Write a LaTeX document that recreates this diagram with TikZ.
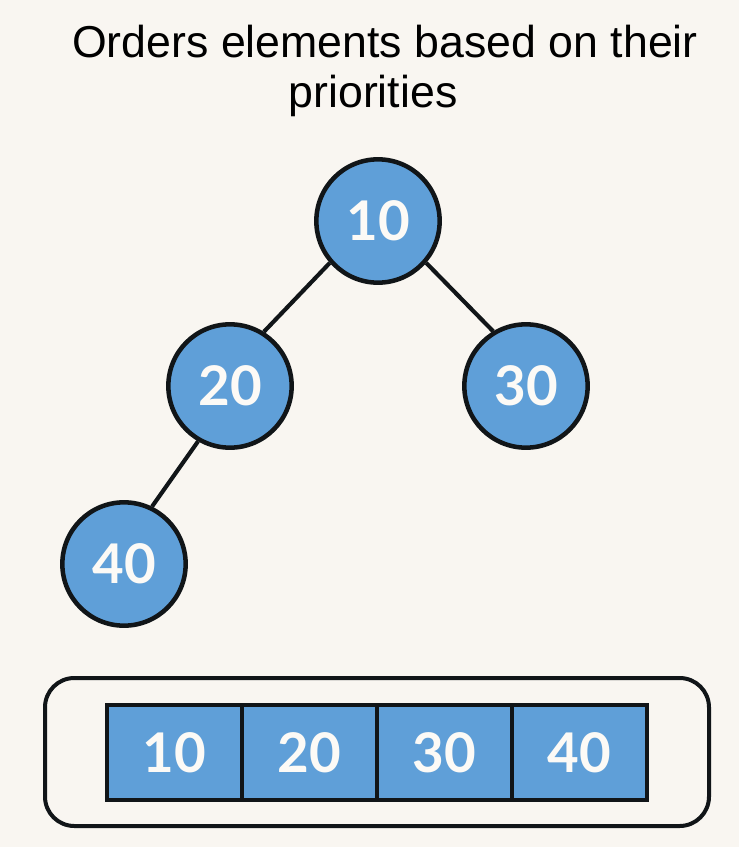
\documentclass[tikz,border=0pt]{standalone}
\usepackage{fontspec}
\setmainfont{Liberation Sans}
\newfontfamily\digitfont{Lato}
\definecolor{bg}{HTML}{F9F6F1}
\definecolor{blu}{HTML}{5F9FD8}
\definecolor{ink}{HTML}{111518}
\definecolor{digit}{HTML}{FCFAF6}
\tikzset{
  x=0.75pt,y=-0.75pt,
  heapnode/.style={circle,draw=ink,fill=blu,line width=3.4pt,minimum size=92.5pt,inner sep=0pt,text=digit,font=\digitfont\bfseries\fontsize{41}{41}\selectfont},
  cellbox/.style={draw=ink,fill=blu,line width=3pt,minimum width=101.25pt,minimum height=71.25pt,inner sep=0pt,text=digit,font=\digitfont\bfseries\fontsize{41}{41}\selectfont},
  edgeline/.style={draw=ink,line width=3.1pt},
  titletext/.style={font=\fontsize{33.5}{33.5}\selectfont,text=black,inner sep=0pt,anchor=base}
}
\begin{document}
\begin{tikzpicture}
\useasboundingbox (0,0) rectangle (739,847);
\fill[bg] (0,0) rectangle (739,847);
\node[titletext] (t1) at (385,57) {Orders elements based on their};
\node[titletext] (t2) at (373,107) {priorities};
\node[heapnode] (a) at (378,221) {10};
\node[heapnode] (b) at (230,386) {20};
\node[heapnode] (c) at (526,386) {30};
\node[heapnode] (d) at (124,564) {40};
\draw[edgeline] (a.221) -- (b.58);
\draw[edgeline] (a.-41) -- (c.121);
\draw[edgeline] (b.240) -- (d.64);
\node[draw=ink,line width=3pt,rounded corners=22pt,minimum width=498pt,minimum height=111pt,inner sep=0pt] (frame) at (377,752) {};
\node[cellbox] (c1) at (174.5,752.5) {10};
\node[cellbox] (c2) at (309.5,752.5) {20};
\node[cellbox] (c3) at (444.5,752.5) {30};
\node[cellbox] (c4) at (579.5,752.5) {40};
\end{tikzpicture}
\end{document}
